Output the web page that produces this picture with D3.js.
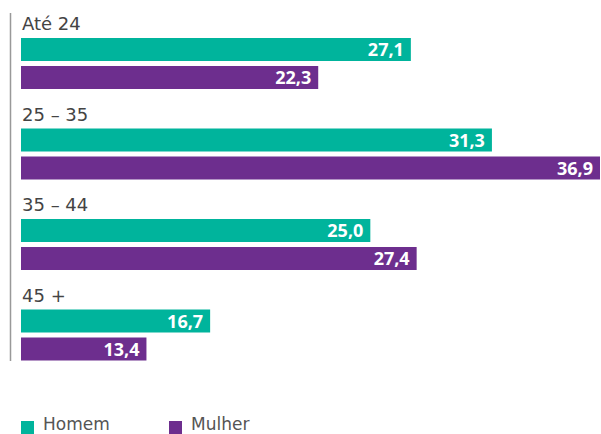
<!DOCTYPE html>
<html><head><meta charset="utf-8">
<script src="https://cdn.jsdelivr.net/npm/d3@7"></script>
<style>body{margin:0;background:#fff}svg{display:block}</style>
</head><body>
<script>
const categories = ["Até 24", "25 – 35", "35 – 44", "45 +"];
const seriesNames = ["Homem", "Mulher"];
const homemValues = [27.1, 31.3, 25.0, 16.7];
const mulherValues = [22.3, 36.9, 27.4, 13.4];
const colors = ["#00B49C", "#6D2E8E"];

const W = 601, H = 434;
const svg = d3.select("body").append("svg").attr("width", W).attr("height", H);

const x = d3.scaleLinear().domain([6.9, 36.9]).range([21, 600]);
const y = d3.scaleBand().domain(categories).range([9, 371]).paddingInner(0).paddingOuter(0);

const barH = 23, gap = 5, labelOff = 29;

svg.append("line").attr("x1", 10.5).attr("x2", 10.5).attr("y1", 13).attr("y2", 361)
  .attr("stroke", "#999").attr("stroke-width", 1.5);

const data = categories.map((c, i) => ({cat: c, vals: [homemValues[i], mulherValues[i]]}));

const g = svg.selectAll("g.grp").data(data).join("g").attr("class", "grp")
  .attr("transform", d => `translate(0,${y(d.cat)})`);

g.append("text").attr("x", 22).attr("y", 21).attr("font-size", 18)
  .attr("font-family", "'DejaVu Sans', sans-serif").attr("fill", "#444")
  .text(d => d.cat);

g.each(function(d) {
  const gg = d3.select(this);
  d.vals.forEach((v, j) => {
    const top = labelOff + j * (barH + gap);
    gg.append("rect").attr("x", x.range()[0]).attr("y", top)
      .attr("width", x(v) - x.range()[0]).attr("height", barH).attr("fill", colors[j]);
    gg.append("text").attr("x", x(v) - 7).attr("y", top + barH / 2 + 6.5)
      .attr("text-anchor", "end").attr("font-size", 18).attr("font-weight", 700)
      .attr("font-family", "'Open Sans', sans-serif")
      .attr("fill", "#fff").text(v.toFixed(1).replace(".", ","));
  });
});

const legX = [21, 169];
const leg = svg.selectAll("g.leg").data(seriesNames).join("g").attr("class", "leg")
  .attr("transform", (d, i) => `translate(${legX[i]},421)`);
leg.append("rect").attr("width", 13).attr("height", 13).attr("fill", (d, i) => colors[i]);
leg.append("text").attr("x", 22).attr("y", 9).attr("font-size", 17)
  .attr("font-family", "'DejaVu Sans', sans-serif").attr("fill", "#555")
  .text(d => d);
</script>
</body></html>
